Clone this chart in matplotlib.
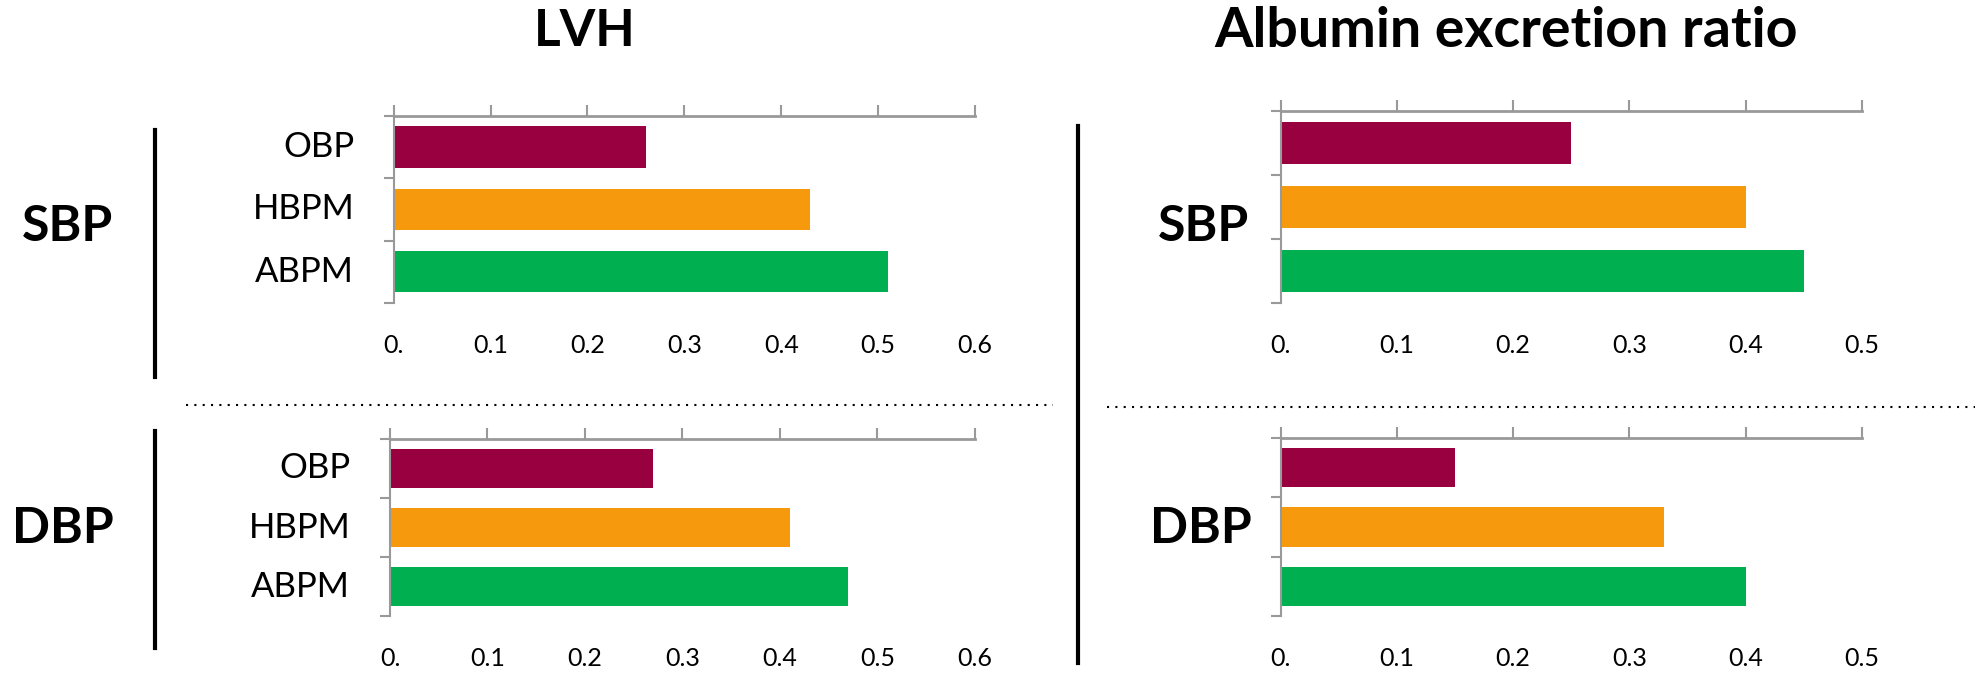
import matplotlib
matplotlib.use("Agg")
import matplotlib.pyplot as plt
from matplotlib.lines import Line2D
from matplotlib.ticker import FuncFormatter

plt.rcParams['font.family'] = ['Lato', 'DejaVu Sans']

categories = ["OBP", "HBPM", "ABPM"]
colors = ["#990040", "#F7990C", "#00B050"]
lvh_sbp = [0.26, 0.43, 0.51]
lvh_dbp = [0.27, 0.41, 0.47]
alb_sbp = [0.25, 0.40, 0.45]
alb_dbp = [0.15, 0.33, 0.40]
lvh_ticks = [0, 0.1, 0.2, 0.3, 0.4, 0.5, 0.6]
alb_ticks = [0, 0.1, 0.2, 0.3, 0.4, 0.5]

W, H = 1570.0, 536.0
fig = plt.figure(figsize=(19.75, 6.74), dpi=100)

def fx(x): return x / W
def fy(y): return 1 - y / H

def panel(x0, x1, y0, y1, vals, ticks, show_cats):
    ax = fig.add_axes([fx(x0), fy(y1), fx(x1) - fx(x0), fy(y0) - fy(y1)])
    pos = [2, 1, 0]
    ax.barh(pos, vals, height=0.66, color=colors)
    ax.set_ylim(-0.5, 2.5)
    ax.set_xlim(ticks[0], ticks[-1])
    ax.set_xticks(ticks)
    ax.xaxis.set_major_formatter(FuncFormatter(lambda v, p: "0." if v == 0 else f"{v:.1f}"))
    for s in ['right', 'bottom']:
        ax.spines[s].set_visible(False)
    ax.spines['top'].set_color('#999999'); ax.spines['top'].set_linewidth(2)
    ax.spines['left'].set_color('#999999'); ax.spines['left'].set_linewidth(1.5)
    ax.tick_params(axis='x', top=True, bottom=False, labeltop=False, labelbottom=True,
                   colors='#999999', length=8, width=1.5, labelsize=18, pad=14, labelcolor='black')
    ax.set_yticks([-0.5, 0.5, 1.5, 2.5])
    ax.set_yticklabels([])
    ax.tick_params(axis='y', length=7, width=1.5, colors='#999999')
    if show_cats:
        for p, c in zip(pos, categories):
            ax.text(-0.068, p, c, ha='right', va='center', fontsize=25,
                    transform=ax.get_yaxis_transform())
    return ax

panel(313, 775, 92, 241, lvh_sbp, lvh_ticks, True)
panel(310, 775, 349, 490, lvh_dbp, lvh_ticks, True)
panel(1018, 1480, 88, 241, alb_sbp, alb_ticks, False)
panel(1018, 1480, 348, 490, alb_dbp, alb_ticks, False)

fig.text(fx(465), fy(25), "LVH", ha='center', va='center', fontsize=37, fontweight='bold')
fig.text(fx(1197), fy(25), "Albumin excretion ratio", ha='center', va='center', fontsize=40, fontweight='bold')
fig.text(fx(54), fy(180), "SBP", ha='center', va='center', fontsize=36, fontweight='bold')
fig.text(fx(50), fy(420), "DBP", ha='center', va='center', fontsize=36, fontweight='bold')
fig.text(fx(957), fy(180), "SBP", ha='center', va='center', fontsize=36, fontweight='bold')
fig.text(fx(955), fy(420), "DBP", ha='center', va='center', fontsize=36, fontweight='bold')

for (x, ya, yb) in [(123, 103, 300), (123, 343, 515), (857, 100, 527)]:
    fig.add_artist(Line2D([fx(x), fx(x)], [fy(ya), fy(yb)], color='black', lw=3))
for (xa, xb, y) in [(148, 837, 322), (880, 1570, 324)]:
    fig.add_artist(Line2D([fx(xa), fx(xb)], [fy(y), fy(y)], color='black', lw=1.5, ls=(0, (1, 3))))

fig.savefig("out.png", dpi=100)
